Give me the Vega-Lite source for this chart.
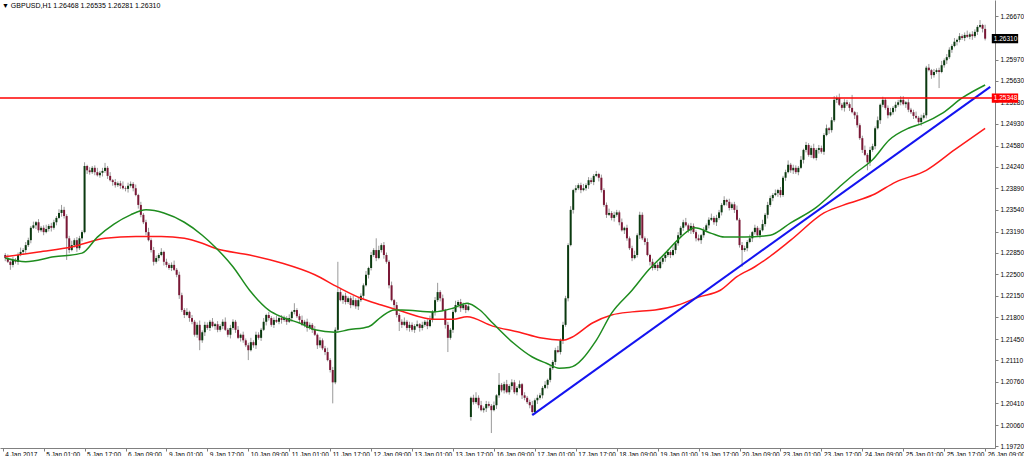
{
"$schema": "https://vega.github.io/schema/vega-lite/v6.json",
"width": 995, "height": 448,
"autosize": {"type": "none"},
"padding": {"left": 0, "top": 0, "right": 29, "bottom": 8},
"background": "white",
"title": {"text": "▼ GBPUSD,H1  1.26468 1.26535 1.26281 1.26310", "anchor": "start", "frame": "group", "orient": "top", "offset": -16, "fontSize": 7, "font": "Liberation Sans", "fontWeight": "normal", "color": "#000000", "dx": 2, "baseline": "bottom"},
"config": {"view": {"stroke": null}, "axis": {"grid": false}},
"datasets": {
"bars": [
{"i":1,"o":1.2281,"h":1.2284,"l":1.2271,"c":1.2276},
{"i":2,"o":1.2276,"h":1.2282,"l":1.2268,"c":1.2270},
{"i":3,"o":1.2270,"h":1.2272,"l":1.2257,"c":1.2265},
{"i":4,"o":1.2265,"h":1.2278,"l":1.2261,"c":1.2273},
{"i":5,"o":1.2273,"h":1.2276,"l":1.2267,"c":1.2270},
{"i":6,"o":1.2270,"h":1.2285,"l":1.2265,"c":1.2281},
{"i":7,"o":1.2281,"h":1.2293,"l":1.2279,"c":1.2286},
{"i":8,"o":1.2286,"h":1.2292,"l":1.2282,"c":1.2289},
{"i":9,"o":1.2289,"h":1.2302,"l":1.2283,"c":1.2297},
{"i":10,"o":1.2297,"h":1.2309,"l":1.2294,"c":1.2305},
{"i":11,"o":1.2305,"h":1.2328,"l":1.2300,"c":1.2325},
{"i":12,"o":1.2325,"h":1.2335,"l":1.2323,"c":1.2329},
{"i":13,"o":1.2329,"h":1.2336,"l":1.2323,"c":1.2334},
{"i":14,"o":1.2334,"h":1.2339,"l":1.2317,"c":1.2321},
{"i":15,"o":1.2321,"h":1.2328,"l":1.2318,"c":1.2325},
{"i":16,"o":1.2325,"h":1.2329,"l":1.2313,"c":1.2318},
{"i":17,"o":1.2318,"h":1.2330,"l":1.2316,"c":1.2323},
{"i":18,"o":1.2323,"h":1.2331,"l":1.2319,"c":1.2328},
{"i":19,"o":1.2328,"h":1.2333,"l":1.2319,"c":1.2325},
{"i":20,"o":1.2325,"h":1.2338,"l":1.2322,"c":1.2334},
{"i":21,"o":1.2334,"h":1.2344,"l":1.2329,"c":1.2341},
{"i":22,"o":1.2341,"h":1.2355,"l":1.2339,"c":1.2349},
{"i":23,"o":1.2349,"h":1.2362,"l":1.2343,"c":1.2354},
{"i":24,"o":1.2354,"h":1.2359,"l":1.2340,"c":1.2344},
{"i":25,"o":1.2344,"h":1.2347,"l":1.2273,"c":1.2308},
{"i":26,"o":1.2308,"h":1.2312,"l":1.2284,"c":1.2289},
{"i":27,"o":1.2289,"h":1.2304,"l":1.2287,"c":1.2297},
{"i":28,"o":1.2297,"h":1.2308,"l":1.2293,"c":1.2305},
{"i":29,"o":1.2305,"h":1.2310,"l":1.2286,"c":1.2292},
{"i":30,"o":1.2292,"h":1.2312,"l":1.2289,"c":1.2308},
{"i":31,"o":1.2308,"h":1.2321,"l":1.2303,"c":1.2318},
{"i":32,"o":1.2318,"h":1.2431,"l":1.2316,"c":1.2425},
{"i":33,"o":1.2425,"h":1.2427,"l":1.2412,"c":1.2418},
{"i":34,"o":1.2418,"h":1.2423,"l":1.2411,"c":1.2415},
{"i":35,"o":1.2415,"h":1.2425,"l":1.2412,"c":1.2422},
{"i":36,"o":1.2422,"h":1.2426,"l":1.2410,"c":1.2415},
{"i":37,"o":1.2415,"h":1.2422,"l":1.2408,"c":1.2410},
{"i":38,"o":1.2410,"h":1.2417,"l":1.2406,"c":1.2414},
{"i":39,"o":1.2414,"h":1.2422,"l":1.2408,"c":1.2417},
{"i":40,"o":1.2417,"h":1.2430,"l":1.2414,"c":1.2422},
{"i":41,"o":1.2422,"h":1.2425,"l":1.2404,"c":1.2409},
{"i":42,"o":1.2409,"h":1.2415,"l":1.2400,"c":1.2402},
{"i":43,"o":1.2402,"h":1.2404,"l":1.2393,"c":1.2399},
{"i":44,"o":1.2399,"h":1.2404,"l":1.2390,"c":1.2394},
{"i":45,"o":1.2394,"h":1.2400,"l":1.2391,"c":1.2397},
{"i":46,"o":1.2397,"h":1.2401,"l":1.2388,"c":1.2393},
{"i":47,"o":1.2393,"h":1.2400,"l":1.2387,"c":1.2389},
{"i":48,"o":1.2389,"h":1.2392,"l":1.2384,"c":1.2388},
{"i":49,"o":1.2388,"h":1.2398,"l":1.2382,"c":1.2393},
{"i":50,"o":1.2393,"h":1.2400,"l":1.2390,"c":1.2396},
{"i":51,"o":1.2396,"h":1.2399,"l":1.2384,"c":1.2389},
{"i":52,"o":1.2389,"h":1.2395,"l":1.2376,"c":1.2378},
{"i":53,"o":1.2378,"h":1.2380,"l":1.2356,"c":1.2362},
{"i":54,"o":1.2362,"h":1.2367,"l":1.2342,"c":1.2346},
{"i":55,"o":1.2346,"h":1.2349,"l":1.2331,"c":1.2334},
{"i":56,"o":1.2334,"h":1.2338,"l":1.2313,"c":1.2318},
{"i":57,"o":1.2318,"h":1.2325,"l":1.2303,"c":1.2305},
{"i":58,"o":1.2305,"h":1.2308,"l":1.2285,"c":1.2289},
{"i":59,"o":1.2289,"h":1.2294,"l":1.2264,"c":1.2270},
{"i":60,"o":1.2270,"h":1.2280,"l":1.2267,"c":1.2276},
{"i":61,"o":1.2276,"h":1.2284,"l":1.2271,"c":1.2281},
{"i":62,"o":1.2281,"h":1.2292,"l":1.2279,"c":1.2286},
{"i":63,"o":1.2286,"h":1.2288,"l":1.2264,"c":1.2270},
{"i":64,"o":1.2270,"h":1.2275,"l":1.2261,"c":1.2265},
{"i":65,"o":1.2265,"h":1.2268,"l":1.2257,"c":1.2260},
{"i":66,"o":1.2260,"h":1.2269,"l":1.2255,"c":1.2265},
{"i":67,"o":1.2265,"h":1.2272,"l":1.2255,"c":1.2257},
{"i":68,"o":1.2257,"h":1.2260,"l":1.2245,"c":1.2249},
{"i":69,"o":1.2249,"h":1.2254,"l":1.2210,"c":1.2216},
{"i":70,"o":1.2216,"h":1.2220,"l":1.2189,"c":1.2192},
{"i":71,"o":1.2192,"h":1.2195,"l":1.2179,"c":1.2184},
{"i":72,"o":1.2184,"h":1.2195,"l":1.2182,"c":1.2189},
{"i":73,"o":1.2189,"h":1.2191,"l":1.2173,"c":1.2179},
{"i":74,"o":1.2179,"h":1.2184,"l":1.2169,"c":1.2173},
{"i":75,"o":1.2173,"h":1.2176,"l":1.2149,"c":1.2152},
{"i":76,"o":1.2152,"h":1.2172,"l":1.2147,"c":1.2168},
{"i":77,"o":1.2168,"h":1.2175,"l":1.2127,"c":1.2143},
{"i":78,"o":1.2143,"h":1.2159,"l":1.2139,"c":1.2156},
{"i":79,"o":1.2156,"h":1.2173,"l":1.2150,"c":1.2168},
{"i":80,"o":1.2168,"h":1.2172,"l":1.2160,"c":1.2163},
{"i":81,"o":1.2163,"h":1.2176,"l":1.2158,"c":1.2173},
{"i":82,"o":1.2173,"h":1.2179,"l":1.2164,"c":1.2166},
{"i":83,"o":1.2166,"h":1.2171,"l":1.2160,"c":1.2169},
{"i":84,"o":1.2169,"h":1.2174,"l":1.2156,"c":1.2160},
{"i":85,"o":1.2160,"h":1.2169,"l":1.2157,"c":1.2166},
{"i":86,"o":1.2166,"h":1.2177,"l":1.2161,"c":1.2173},
{"i":87,"o":1.2173,"h":1.2180,"l":1.2158,"c":1.2160},
{"i":88,"o":1.2160,"h":1.2163,"l":1.2148,"c":1.2152},
{"i":89,"o":1.2152,"h":1.2168,"l":1.2146,"c":1.2163},
{"i":90,"o":1.2163,"h":1.2177,"l":1.2160,"c":1.2173},
{"i":91,"o":1.2173,"h":1.2176,"l":1.2155,"c":1.2160},
{"i":92,"o":1.2160,"h":1.2166,"l":1.2145,"c":1.2147},
{"i":93,"o":1.2147,"h":1.2154,"l":1.2141,"c":1.2152},
{"i":94,"o":1.2152,"h":1.2157,"l":1.2139,"c":1.2143},
{"i":95,"o":1.2143,"h":1.2146,"l":1.2132,"c":1.2135},
{"i":96,"o":1.2135,"h":1.2139,"l":1.2111,"c":1.2127},
{"i":97,"o":1.2127,"h":1.2147,"l":1.2125,"c":1.2140},
{"i":98,"o":1.2140,"h":1.2143,"l":1.2131,"c":1.2135},
{"i":99,"o":1.2135,"h":1.2157,"l":1.2129,"c":1.2152},
{"i":100,"o":1.2152,"h":1.2156,"l":1.2144,"c":1.2147},
{"i":101,"o":1.2147,"h":1.2163,"l":1.2142,"c":1.2160},
{"i":102,"o":1.2160,"h":1.2179,"l":1.2158,"c":1.2173},
{"i":103,"o":1.2173,"h":1.2186,"l":1.2167,"c":1.2184},
{"i":104,"o":1.2184,"h":1.2189,"l":1.2175,"c":1.2179},
{"i":105,"o":1.2179,"h":1.2182,"l":1.2165,"c":1.2168},
{"i":106,"o":1.2168,"h":1.2180,"l":1.2163,"c":1.2176},
{"i":107,"o":1.2176,"h":1.2183,"l":1.2171,"c":1.2173},
{"i":108,"o":1.2173,"h":1.2182,"l":1.2169,"c":1.2179},
{"i":109,"o":1.2179,"h":1.2184,"l":1.2170,"c":1.2176},
{"i":110,"o":1.2176,"h":1.2183,"l":1.2173,"c":1.2179},
{"i":111,"o":1.2179,"h":1.2182,"l":1.2168,"c":1.2173},
{"i":112,"o":1.2173,"h":1.2185,"l":1.2171,"c":1.2179},
{"i":113,"o":1.2179,"h":1.2191,"l":1.2173,"c":1.2189},
{"i":114,"o":1.2189,"h":1.2203,"l":1.2185,"c":1.2192},
{"i":115,"o":1.2192,"h":1.2195,"l":1.2179,"c":1.2182},
{"i":116,"o":1.2182,"h":1.2186,"l":1.2171,"c":1.2176},
{"i":117,"o":1.2176,"h":1.2183,"l":1.2166,"c":1.2168},
{"i":118,"o":1.2168,"h":1.2176,"l":1.2164,"c":1.2173},
{"i":119,"o":1.2173,"h":1.2178,"l":1.2157,"c":1.2163},
{"i":120,"o":1.2163,"h":1.2172,"l":1.2160,"c":1.2168},
{"i":121,"o":1.2168,"h":1.2171,"l":1.2155,"c":1.2160},
{"i":122,"o":1.2160,"h":1.2166,"l":1.2150,"c":1.2152},
{"i":123,"o":1.2152,"h":1.2154,"l":1.2129,"c":1.2135},
{"i":124,"o":1.2135,"h":1.2148,"l":1.2131,"c":1.2143},
{"i":125,"o":1.2143,"h":1.2146,"l":1.2127,"c":1.2130},
{"i":126,"o":1.2130,"h":1.2134,"l":1.2119,"c":1.2124},
{"i":127,"o":1.2124,"h":1.2131,"l":1.2109,"c":1.2111},
{"i":128,"o":1.2111,"h":1.2114,"l":1.2091,"c":1.2095},
{"i":129,"o":1.2095,"h":1.2100,"l":1.2041,"c":1.2075},
{"i":130,"o":1.2075,"h":1.2164,"l":1.2072,"c":1.2160},
{"i":131,"o":1.2160,"h":1.2270,"l":1.2155,"c":1.2221},
{"i":132,"o":1.2221,"h":1.2227,"l":1.2206,"c":1.2208},
{"i":133,"o":1.2208,"h":1.2217,"l":1.2202,"c":1.2215},
{"i":134,"o":1.2215,"h":1.2220,"l":1.2201,"c":1.2205},
{"i":135,"o":1.2205,"h":1.2214,"l":1.2202,"c":1.2211},
{"i":136,"o":1.2211,"h":1.2215,"l":1.2195,"c":1.2200},
{"i":137,"o":1.2200,"h":1.2215,"l":1.2198,"c":1.2208},
{"i":138,"o":1.2208,"h":1.2211,"l":1.2194,"c":1.2198},
{"i":139,"o":1.2198,"h":1.2213,"l":1.2192,"c":1.2208},
{"i":140,"o":1.2208,"h":1.2219,"l":1.2205,"c":1.2215},
{"i":141,"o":1.2215,"h":1.2235,"l":1.2210,"c":1.2232},
{"i":142,"o":1.2232,"h":1.2255,"l":1.2230,"c":1.2249},
{"i":143,"o":1.2249,"h":1.2262,"l":1.2243,"c":1.2260},
{"i":144,"o":1.2260,"h":1.2286,"l":1.2256,"c":1.2281},
{"i":145,"o":1.2281,"h":1.2292,"l":1.2278,"c":1.2289},
{"i":146,"o":1.2289,"h":1.2308,"l":1.2271,"c":1.2276},
{"i":147,"o":1.2276,"h":1.2296,"l":1.2274,"c":1.2289},
{"i":148,"o":1.2289,"h":1.2300,"l":1.2285,"c":1.2297},
{"i":149,"o":1.2297,"h":1.2302,"l":1.2275,"c":1.2281},
{"i":150,"o":1.2281,"h":1.2285,"l":1.2267,"c":1.2270},
{"i":151,"o":1.2270,"h":1.2273,"l":1.2227,"c":1.2232},
{"i":152,"o":1.2232,"h":1.2238,"l":1.2206,"c":1.2208},
{"i":153,"o":1.2208,"h":1.2210,"l":1.2194,"c":1.2200},
{"i":154,"o":1.2200,"h":1.2205,"l":1.2180,"c":1.2184},
{"i":155,"o":1.2184,"h":1.2187,"l":1.2158,"c":1.2173},
{"i":156,"o":1.2173,"h":1.2177,"l":1.2163,"c":1.2168},
{"i":157,"o":1.2168,"h":1.2180,"l":1.2166,"c":1.2173},
{"i":158,"o":1.2173,"h":1.2176,"l":1.2159,"c":1.2163},
{"i":159,"o":1.2163,"h":1.2173,"l":1.2157,"c":1.2168},
{"i":160,"o":1.2168,"h":1.2172,"l":1.2157,"c":1.2160},
{"i":161,"o":1.2160,"h":1.2169,"l":1.2155,"c":1.2166},
{"i":162,"o":1.2166,"h":1.2175,"l":1.2164,"c":1.2169},
{"i":163,"o":1.2169,"h":1.2171,"l":1.2157,"c":1.2163},
{"i":164,"o":1.2163,"h":1.2173,"l":1.2159,"c":1.2168},
{"i":165,"o":1.2168,"h":1.2176,"l":1.2165,"c":1.2173},
{"i":166,"o":1.2173,"h":1.2177,"l":1.2161,"c":1.2166},
{"i":167,"o":1.2166,"h":1.2183,"l":1.2164,"c":1.2176},
{"i":168,"o":1.2176,"h":1.2192,"l":1.2172,"c":1.2189},
{"i":169,"o":1.2189,"h":1.2213,"l":1.2183,"c":1.2208},
{"i":170,"o":1.2208,"h":1.2236,"l":1.2205,"c":1.2221},
{"i":171,"o":1.2221,"h":1.2224,"l":1.2206,"c":1.2211},
{"i":172,"o":1.2211,"h":1.2217,"l":1.2190,"c":1.2192},
{"i":173,"o":1.2192,"h":1.2194,"l":1.2162,"c":1.2168},
{"i":174,"o":1.2168,"h":1.2173,"l":1.2124,"c":1.2147},
{"i":175,"o":1.2147,"h":1.2163,"l":1.2144,"c":1.2160},
{"i":176,"o":1.2160,"h":1.2193,"l":1.2155,"c":1.2189},
{"i":177,"o":1.2189,"h":1.2207,"l":1.2187,"c":1.2200},
{"i":178,"o":1.2200,"h":1.2208,"l":1.2196,"c":1.2205},
{"i":179,"o":1.2205,"h":1.2210,"l":1.2189,"c":1.2195},
{"i":180,"o":1.2195,"h":1.2204,"l":1.2192,"c":1.2200},
{"i":181,"o":1.2200,"h":1.2203,"l":1.2187,"c":1.2192},
{"i":182,"o":1.2192,"h":1.2204,"l":1.2190,"c":1.2198},
{"i":183,"o":1.2019,"h":1.2052,"l":1.2013,"c":1.2050},
{"i":184,"o":1.2050,"h":1.2055,"l":1.2039,"c":1.2043},
{"i":185,"o":1.2043,"h":1.2059,"l":1.2040,"c":1.2050},
{"i":186,"o":1.2050,"h":1.2054,"l":1.2033,"c":1.2038},
{"i":187,"o":1.2038,"h":1.2045,"l":1.2028,"c":1.2030},
{"i":188,"o":1.2030,"h":1.2036,"l":1.2026,"c":1.2033},
{"i":189,"o":1.2033,"h":1.2045,"l":1.2027,"c":1.2040},
{"i":190,"o":1.2040,"h":1.2044,"l":1.2034,"c":1.2037},
{"i":191,"o":1.2037,"h":1.2040,"l":1.1993,"c":1.2030},
{"i":192,"o":1.2030,"h":1.2044,"l":1.2028,"c":1.2038},
{"i":193,"o":1.2038,"h":1.2056,"l":1.2032,"c":1.2054},
{"i":194,"o":1.2054,"h":1.2090,"l":1.2050,"c":1.2071},
{"i":195,"o":1.2071,"h":1.2074,"l":1.2059,"c":1.2062},
{"i":196,"o":1.2062,"h":1.2076,"l":1.2057,"c":1.2072},
{"i":197,"o":1.2072,"h":1.2079,"l":1.2057,"c":1.2059},
{"i":198,"o":1.2059,"h":1.2072,"l":1.2055,"c":1.2069},
{"i":199,"o":1.2069,"h":1.2080,"l":1.2063,"c":1.2075},
{"i":200,"o":1.2075,"h":1.2079,"l":1.2056,"c":1.2059},
{"i":201,"o":1.2059,"h":1.2069,"l":1.2054,"c":1.2066},
{"i":202,"o":1.2066,"h":1.2078,"l":1.2064,"c":1.2072},
{"i":203,"o":1.2072,"h":1.2074,"l":1.2048,"c":1.2054},
{"i":204,"o":1.2054,"h":1.2059,"l":1.2046,"c":1.2050},
{"i":205,"o":1.2050,"h":1.2053,"l":1.2040,"c":1.2043},
{"i":206,"o":1.2043,"h":1.2047,"l":1.2033,"c":1.2038},
{"i":207,"o":1.2038,"h":1.2045,"l":1.2022,"c":1.2027},
{"i":208,"o":1.2027,"h":1.2049,"l":1.2023,"c":1.2046},
{"i":209,"o":1.2046,"h":1.2055,"l":1.2040,"c":1.2050},
{"i":210,"o":1.2050,"h":1.2058,"l":1.2047,"c":1.2054},
{"i":211,"o":1.2054,"h":1.2069,"l":1.2049,"c":1.2066},
{"i":212,"o":1.2066,"h":1.2077,"l":1.2064,"c":1.2071},
{"i":213,"o":1.2071,"h":1.2081,"l":1.2065,"c":1.2079},
{"i":214,"o":1.2079,"h":1.2103,"l":1.2075,"c":1.2098},
{"i":215,"o":1.2098,"h":1.2111,"l":1.2095,"c":1.2108},
{"i":216,"o":1.2108,"h":1.2131,"l":1.2103,"c":1.2127},
{"i":217,"o":1.2127,"h":1.2134,"l":1.2122,"c":1.2124},
{"i":218,"o":1.2124,"h":1.2146,"l":1.2120,"c":1.2143},
{"i":219,"o":1.2143,"h":1.2173,"l":1.2137,"c":1.2168},
{"i":220,"o":1.2168,"h":1.2215,"l":1.2165,"c":1.2211},
{"i":221,"o":1.2211,"h":1.2300,"l":1.2206,"c":1.2297},
{"i":222,"o":1.2297,"h":1.2360,"l":1.2295,"c":1.2354},
{"i":223,"o":1.2354,"h":1.2388,"l":1.2348,"c":1.2386},
{"i":224,"o":1.2386,"h":1.2394,"l":1.2382,"c":1.2389},
{"i":225,"o":1.2389,"h":1.2397,"l":1.2386,"c":1.2394},
{"i":226,"o":1.2394,"h":1.2398,"l":1.2381,"c":1.2386},
{"i":227,"o":1.2386,"h":1.2396,"l":1.2384,"c":1.2389},
{"i":228,"o":1.2389,"h":1.2397,"l":1.2385,"c":1.2394},
{"i":229,"o":1.2394,"h":1.2407,"l":1.2388,"c":1.2402},
{"i":230,"o":1.2402,"h":1.2406,"l":1.2396,"c":1.2399},
{"i":231,"o":1.2399,"h":1.2412,"l":1.2394,"c":1.2409},
{"i":232,"o":1.2409,"h":1.2417,"l":1.2407,"c":1.2412},
{"i":233,"o":1.2412,"h":1.2414,"l":1.2400,"c":1.2406},
{"i":234,"o":1.2406,"h":1.2411,"l":1.2382,"c":1.2386},
{"i":235,"o":1.2386,"h":1.2389,"l":1.2359,"c":1.2362},
{"i":236,"o":1.2362,"h":1.2366,"l":1.2341,"c":1.2346},
{"i":237,"o":1.2346,"h":1.2356,"l":1.2344,"c":1.2349},
{"i":238,"o":1.2349,"h":1.2352,"l":1.2337,"c":1.2341},
{"i":239,"o":1.2341,"h":1.2351,"l":1.2335,"c":1.2346},
{"i":240,"o":1.2346,"h":1.2354,"l":1.2343,"c":1.2350},
{"i":241,"o":1.2350,"h":1.2353,"l":1.2329,"c":1.2334},
{"i":242,"o":1.2334,"h":1.2340,"l":1.2319,"c":1.2321},
{"i":243,"o":1.2321,"h":1.2327,"l":1.2315,"c":1.2325},
{"i":244,"o":1.2325,"h":1.2330,"l":1.2304,"c":1.2308},
{"i":245,"o":1.2308,"h":1.2311,"l":1.2289,"c":1.2292},
{"i":246,"o":1.2292,"h":1.2296,"l":1.2271,"c":1.2276},
{"i":247,"o":1.2276,"h":1.2288,"l":1.2274,"c":1.2281},
{"i":248,"o":1.2281,"h":1.2316,"l":1.2277,"c":1.2313},
{"i":249,"o":1.2313,"h":1.2351,"l":1.2307,"c":1.2346},
{"i":250,"o":1.2346,"h":1.2350,"l":1.2305,"c":1.2308},
{"i":251,"o":1.2308,"h":1.2311,"l":1.2297,"c":1.2302},
{"i":252,"o":1.2302,"h":1.2308,"l":1.2279,"c":1.2281},
{"i":253,"o":1.2281,"h":1.2283,"l":1.2264,"c":1.2270},
{"i":254,"o":1.2270,"h":1.2275,"l":1.2256,"c":1.2260},
{"i":255,"o":1.2260,"h":1.2268,"l":1.2257,"c":1.2265},
{"i":256,"o":1.2265,"h":1.2269,"l":1.2255,"c":1.2260},
{"i":257,"o":1.2260,"h":1.2277,"l":1.2258,"c":1.2270},
{"i":258,"o":1.2270,"h":1.2279,"l":1.2266,"c":1.2276},
{"i":259,"o":1.2276,"h":1.2286,"l":1.2270,"c":1.2281},
{"i":260,"o":1.2281,"h":1.2290,"l":1.2278,"c":1.2286},
{"i":261,"o":1.2286,"h":1.2289,"l":1.2276,"c":1.2281},
{"i":262,"o":1.2281,"h":1.2295,"l":1.2279,"c":1.2289},
{"i":263,"o":1.2289,"h":1.2302,"l":1.2283,"c":1.2300},
{"i":264,"o":1.2300,"h":1.2318,"l":1.2296,"c":1.2313},
{"i":265,"o":1.2313,"h":1.2328,"l":1.2310,"c":1.2325},
{"i":266,"o":1.2325,"h":1.2338,"l":1.2320,"c":1.2334},
{"i":267,"o":1.2334,"h":1.2341,"l":1.2327,"c":1.2329},
{"i":268,"o":1.2329,"h":1.2332,"l":1.2317,"c":1.2321},
{"i":269,"o":1.2321,"h":1.2333,"l":1.2315,"c":1.2328},
{"i":270,"o":1.2328,"h":1.2332,"l":1.2315,"c":1.2318},
{"i":271,"o":1.2318,"h":1.2321,"l":1.2303,"c":1.2308},
{"i":272,"o":1.2308,"h":1.2314,"l":1.2303,"c":1.2305},
{"i":273,"o":1.2305,"h":1.2315,"l":1.2299,"c":1.2313},
{"i":274,"o":1.2313,"h":1.2326,"l":1.2309,"c":1.2321},
{"i":275,"o":1.2321,"h":1.2332,"l":1.2318,"c":1.2329},
{"i":276,"o":1.2329,"h":1.2342,"l":1.2324,"c":1.2338},
{"i":277,"o":1.2338,"h":1.2348,"l":1.2336,"c":1.2341},
{"i":278,"o":1.2341,"h":1.2344,"l":1.2330,"c":1.2334},
{"i":279,"o":1.2334,"h":1.2346,"l":1.2328,"c":1.2341},
{"i":280,"o":1.2341,"h":1.2354,"l":1.2338,"c":1.2350},
{"i":281,"o":1.2350,"h":1.2365,"l":1.2345,"c":1.2362},
{"i":282,"o":1.2362,"h":1.2376,"l":1.2360,"c":1.2370},
{"i":283,"o":1.2370,"h":1.2372,"l":1.2361,"c":1.2367},
{"i":284,"o":1.2367,"h":1.2372,"l":1.2353,"c":1.2357},
{"i":285,"o":1.2357,"h":1.2366,"l":1.2354,"c":1.2363},
{"i":286,"o":1.2363,"h":1.2367,"l":1.2349,"c":1.2354},
{"i":287,"o":1.2354,"h":1.2361,"l":1.2336,"c":1.2338},
{"i":288,"o":1.2338,"h":1.2341,"l":1.2293,"c":1.2297},
{"i":289,"o":1.2297,"h":1.2302,"l":1.2262,"c":1.2289},
{"i":290,"o":1.2289,"h":1.2296,"l":1.2286,"c":1.2292},
{"i":291,"o":1.2292,"h":1.2305,"l":1.2287,"c":1.2302},
{"i":292,"o":1.2302,"h":1.2314,"l":1.2300,"c":1.2308},
{"i":293,"o":1.2308,"h":1.2320,"l":1.2302,"c":1.2318},
{"i":294,"o":1.2318,"h":1.2330,"l":1.2314,"c":1.2325},
{"i":295,"o":1.2325,"h":1.2328,"l":1.2310,"c":1.2313},
{"i":296,"o":1.2313,"h":1.2325,"l":1.2308,"c":1.2321},
{"i":297,"o":1.2321,"h":1.2338,"l":1.2319,"c":1.2331},
{"i":298,"o":1.2331,"h":1.2349,"l":1.2327,"c":1.2346},
{"i":299,"o":1.2346,"h":1.2367,"l":1.2340,"c":1.2362},
{"i":300,"o":1.2362,"h":1.2377,"l":1.2359,"c":1.2373},
{"i":301,"o":1.2373,"h":1.2381,"l":1.2368,"c":1.2378},
{"i":302,"o":1.2378,"h":1.2387,"l":1.2376,"c":1.2381},
{"i":303,"o":1.2381,"h":1.2388,"l":1.2375,"c":1.2386},
{"i":304,"o":1.2386,"h":1.2391,"l":1.2374,"c":1.2378},
{"i":305,"o":1.2378,"h":1.2409,"l":1.2375,"c":1.2406},
{"i":306,"o":1.2406,"h":1.2419,"l":1.2401,"c":1.2415},
{"i":307,"o":1.2415,"h":1.2434,"l":1.2413,"c":1.2427},
{"i":308,"o":1.2427,"h":1.2430,"l":1.2414,"c":1.2418},
{"i":309,"o":1.2418,"h":1.2427,"l":1.2412,"c":1.2422},
{"i":310,"o":1.2422,"h":1.2426,"l":1.2412,"c":1.2415},
{"i":311,"o":1.2415,"h":1.2425,"l":1.2410,"c":1.2422},
{"i":312,"o":1.2422,"h":1.2441,"l":1.2420,"c":1.2435},
{"i":313,"o":1.2435,"h":1.2453,"l":1.2429,"c":1.2451},
{"i":314,"o":1.2451,"h":1.2464,"l":1.2447,"c":1.2459},
{"i":315,"o":1.2459,"h":1.2462,"l":1.2440,"c":1.2443},
{"i":316,"o":1.2443,"h":1.2458,"l":1.2438,"c":1.2454},
{"i":317,"o":1.2454,"h":1.2461,"l":1.2436,"c":1.2438},
{"i":318,"o":1.2438,"h":1.2454,"l":1.2434,"c":1.2451},
{"i":319,"o":1.2451,"h":1.2459,"l":1.2445,"c":1.2454},
{"i":320,"o":1.2454,"h":1.2458,"l":1.2445,"c":1.2448},
{"i":321,"o":1.2448,"h":1.2478,"l":1.2443,"c":1.2475},
{"i":322,"o":1.2475,"h":1.2492,"l":1.2473,"c":1.2486},
{"i":323,"o":1.2486,"h":1.2488,"l":1.2477,"c":1.2483},
{"i":324,"o":1.2483,"h":1.2504,"l":1.2479,"c":1.2499},
{"i":325,"o":1.2499,"h":1.2538,"l":1.2496,"c":1.2532},
{"i":326,"o":1.2532,"h":1.2539,"l":1.2527,"c":1.2535},
{"i":327,"o":1.2535,"h":1.2542,"l":1.2522,"c":1.2524},
{"i":328,"o":1.2524,"h":1.2527,"l":1.2515,"c":1.2519},
{"i":329,"o":1.2519,"h":1.2533,"l":1.2513,"c":1.2528},
{"i":330,"o":1.2528,"h":1.2532,"l":1.2522,"c":1.2525},
{"i":331,"o":1.2525,"h":1.2528,"l":1.2514,"c":1.2519},
{"i":332,"o":1.2519,"h":1.2540,"l":1.2510,"c":1.2512},
{"i":333,"o":1.2512,"h":1.2514,"l":1.2501,"c":1.2507},
{"i":334,"o":1.2507,"h":1.2512,"l":1.2487,"c":1.2491},
{"i":335,"o":1.2491,"h":1.2494,"l":1.2467,"c":1.2470},
{"i":336,"o":1.2470,"h":1.2474,"l":1.2446,"c":1.2451},
{"i":337,"o":1.2451,"h":1.2458,"l":1.2441,"c":1.2443},
{"i":338,"o":1.2443,"h":1.2446,"l":1.2418,"c":1.2431},
{"i":339,"o":1.2431,"h":1.2456,"l":1.2425,"c":1.2451},
{"i":340,"o":1.2451,"h":1.2461,"l":1.2448,"c":1.2457},
{"i":341,"o":1.2457,"h":1.2489,"l":1.2452,"c":1.2486},
{"i":342,"o":1.2486,"h":1.2505,"l":1.2484,"c":1.2499},
{"i":343,"o":1.2499,"h":1.2526,"l":1.2493,"c":1.2524},
{"i":344,"o":1.2524,"h":1.2537,"l":1.2520,"c":1.2532},
{"i":345,"o":1.2532,"h":1.2535,"l":1.2516,"c":1.2519},
{"i":346,"o":1.2519,"h":1.2523,"l":1.2502,"c":1.2507},
{"i":347,"o":1.2507,"h":1.2519,"l":1.2505,"c":1.2512},
{"i":348,"o":1.2512,"h":1.2522,"l":1.2508,"c":1.2519},
{"i":349,"o":1.2519,"h":1.2529,"l":1.2513,"c":1.2524},
{"i":350,"o":1.2524,"h":1.2532,"l":1.2521,"c":1.2528},
{"i":351,"o":1.2528,"h":1.2538,"l":1.2523,"c":1.2532},
{"i":352,"o":1.2532,"h":1.2538,"l":1.2523,"c":1.2525},
{"i":353,"o":1.2525,"h":1.2530,"l":1.2519,"c":1.2528},
{"i":354,"o":1.2528,"h":1.2533,"l":1.2512,"c":1.2516},
{"i":355,"o":1.2516,"h":1.2519,"l":1.2509,"c":1.2512},
{"i":356,"o":1.2512,"h":1.2516,"l":1.2501,"c":1.2506},
{"i":357,"o":1.2506,"h":1.2513,"l":1.2501,"c":1.2503},
{"i":358,"o":1.2503,"h":1.2506,"l":1.2492,"c":1.2496},
{"i":359,"o":1.2496,"h":1.2508,"l":1.2490,"c":1.2503},
{"i":360,"o":1.2503,"h":1.2511,"l":1.2500,"c":1.2507},
{"i":361,"o":1.2507,"h":1.2587,"l":1.2502,"c":1.2584},
{"i":362,"o":1.2584,"h":1.2590,"l":1.2578,"c":1.2580},
{"i":363,"o":1.2580,"h":1.2582,"l":1.2566,"c":1.2572},
{"i":364,"o":1.2572,"h":1.2582,"l":1.2568,"c":1.2577},
{"i":365,"o":1.2577,"h":1.2583,"l":1.2574,"c":1.2580},
{"i":366,"o":1.2580,"h":1.2584,"l":1.2551,"c":1.2577},
{"i":367,"o":1.2577,"h":1.2595,"l":1.2575,"c":1.2588},
{"i":368,"o":1.2588,"h":1.2599,"l":1.2584,"c":1.2596},
{"i":369,"o":1.2596,"h":1.2606,"l":1.2590,"c":1.2601},
{"i":370,"o":1.2601,"h":1.2617,"l":1.2598,"c":1.2613},
{"i":371,"o":1.2613,"h":1.2622,"l":1.2608,"c":1.2619},
{"i":372,"o":1.2619,"h":1.2632,"l":1.2617,"c":1.2626},
{"i":373,"o":1.2626,"h":1.2631,"l":1.2620,"c":1.2629},
{"i":374,"o":1.2629,"h":1.2640,"l":1.2625,"c":1.2635},
{"i":375,"o":1.2635,"h":1.2638,"l":1.2629,"c":1.2632},
{"i":376,"o":1.2632,"h":1.2641,"l":1.2627,"c":1.2637},
{"i":377,"o":1.2637,"h":1.2644,"l":1.2632,"c":1.2634},
{"i":378,"o":1.2634,"h":1.2641,"l":1.2630,"c":1.2638},
{"i":379,"o":1.2638,"h":1.2643,"l":1.2629,"c":1.2635},
{"i":380,"o":1.2635,"h":1.2646,"l":1.2632,"c":1.2642},
{"i":381,"o":1.2642,"h":1.2653,"l":1.2637,"c":1.2650},
{"i":382,"o":1.2650,"h":1.2661,"l":1.2648,"c":1.2653},
{"i":383,"o":1.2653,"h":1.2655,"l":1.2641,"c":1.2647},
{"i":384,"o":1.26468,"h":1.26535,"l":1.26281,"c":1.26310}
],
"green": [
{"i":1,"v":1.2276},{"i":9,"v":1.2270},{"i":20,"v":1.2278},{"i":31,"v":1.2284},{"i":37,"v":1.2310},{"i":43.5,"v":1.2331},{"i":50,"v":1.2346},{"i":56,"v":1.2354},{"i":63,"v":1.2349},{"i":71,"v":1.2334},{"i":78,"v":1.2313},{"i":83,"v":1.2294},{"i":90,"v":1.2262},{"i":96.5,"v":1.2224},{"i":104,"v":1.2192},{"i":109,"v":1.2181},{"i":116,"v":1.2171},{"i":122,"v":1.2160},{"i":130,"v":1.2156},{"i":135,"v":1.2160},{"i":143,"v":1.2165},{"i":148,"v":1.2181},{"i":153,"v":1.2192},{"i":156,"v":1.2192},{"i":168.5,"v":1.2189},{"i":176,"v":1.2195},{"i":181.5,"v":1.2203},{"i":186.5,"v":1.2192},{"i":191.5,"v":1.2171},{"i":199.5,"v":1.2139},{"i":207,"v":1.2116},{"i":212.5,"v":1.2106},{"i":217.5,"v":1.2098},{"i":221.5,"v":1.2099},{"i":232,"v":1.2143},{"i":238,"v":1.2187},{"i":246,"v":1.2224},{"i":252.5,"v":1.2257},{"i":259,"v":1.2284},{"i":265,"v":1.2310},{"i":270.5,"v":1.2325},{"i":277,"v":1.2316},{"i":282,"v":1.2310},{"i":290,"v":1.2310},{"i":300,"v":1.2313},{"i":308,"v":1.2333},{"i":318,"v":1.2358},{"i":327,"v":1.2391},{"i":333.5,"v":1.2414},{"i":340,"v":1.2435},{"i":346.5,"v":1.2467},{"i":354,"v":1.2486},{"i":359.5,"v":1.2494},{"i":367.5,"v":1.2511},{"i":375,"v":1.2535},{"i":384,"v":1.2556}
],
"red": [
{"i":1,"v":1.2278},{"i":14,"v":1.2286},{"i":27,"v":1.2294},{"i":40,"v":1.2308},{"i":52,"v":1.2311},{"i":62,"v":1.2311},{"i":71,"v":1.2308},{"i":78,"v":1.2300},{"i":83,"v":1.2292},{"i":96.5,"v":1.2281},{"i":109,"v":1.2268},{"i":122,"v":1.2249},{"i":131,"v":1.2229},{"i":140,"v":1.2211},{"i":148,"v":1.2200},{"i":156,"v":1.2190},{"i":168.5,"v":1.2177},{"i":176,"v":1.2177},{"i":181.5,"v":1.2181},{"i":191.5,"v":1.2166},{"i":202,"v":1.2156},{"i":210,"v":1.2147},{"i":219,"v":1.2143},{"i":222.5,"v":1.2148},{"i":230.5,"v":1.2171},{"i":238,"v":1.2184},{"i":246,"v":1.2189},{"i":255,"v":1.2192},{"i":264,"v":1.2200},{"i":272,"v":1.2213},{"i":280.5,"v":1.2224},{"i":287,"v":1.2246},{"i":294,"v":1.2262},{"i":299,"v":1.2276},{"i":308,"v":1.2305},{"i":321,"v":1.2349},{"i":331,"v":1.2365},{"i":340,"v":1.2378},{"i":349,"v":1.2399},{"i":361,"v":1.2418},{"i":372,"v":1.2451},{"i":384,"v":1.2486}
],
"blue": [
{"i":207,"v":1.2022},{"i":386,"v":1.2553}
]
},
"layer": [
{"data": {"name": "bars"},
 "mark": {"type": "rule", "color": "#9a9a9a", "strokeWidth": 1},
 "encoding": {
  "x": {"field": "i", "type": "quantitative", "scale": {"domain": [0.9, 385.9], "nice": false, "zero": false},
   "axis": {"values": [0,16,32,48,64,80,96,112,128,144,160,176,192,208,224,240,256,272,288,304,320,336,352,368,384],
    "tickCount": 40,
    "labelExpr": "['4 Jan 2017','5 Jan 01:00','5 Jan 17:00','6 Jan 09:00','9 Jan 01:00','9 Jan 17:00','10 Jan 09:00','11 Jan 01:00','11 Jan 17:00','12 Jan 09:00','13 Jan 01:00','13 Jan 17:00','16 Jan 09:00','17 Jan 01:00','17 Jan 17:00','18 Jan 09:00','19 Jan 01:00','19 Jan 17:00','20 Jan 09:00','23 Jan 01:00','23 Jan 17:00','24 Jan 09:00','25 Jan 01:00','25 Jan 17:00','26 Jan 09:00'][round(datum.value/16)]",
    "title": null, "orient": "bottom", "tickSize": 3, "labelPadding": 0, "labelAlign": "left", "labelOffset": 2, "labelBaseline": "top",
    "labelFontSize": 6.5, "labelFont": "Liberation Sans", "labelColor": "#000000", "domainColor": "#808080", "tickColor": "#808080",
    "labelOverlap": false, "labelBound": false, "labelFlush": false}},
  "y": {"field": "l", "type": "quantitative", "scale": {"domain": [1.19688, 1.26935], "nice": false, "zero": false},
   "axis": {"orient": "right", "values": [1.1972,1.2006,1.2041,1.2076,1.2111,1.2145,1.218,1.2215,1.225,1.2285,1.2319,1.2354,1.2389,1.2424,1.2458,1.2493,1.2528,1.2563,1.2597,1.2667],
    "tickCount": 40,
    "format": ".5f", "title": null, "tickSize": 3, "labelPadding": 2, "labelFontSize": 6.5, "labelFont": "Liberation Sans", "labelColor": "#000000",
    "domainColor": "#808080", "tickColor": "#808080", "labelOverlap": false, "labelBound": false, "labelFlush": false}},
  "y2": {"field": "h"}
 }},
{"data": {"name": "bars"},
 "mark": {"type": "bar", "size": 2},
 "encoding": {
  "x": {"field": "i", "type": "quantitative", "scale": {"domain": [0.9, 385.9], "nice": false, "zero": false}},
  "y": {"field": "o", "type": "quantitative", "scale": {"domain": [1.19688, 1.26935], "nice": false, "zero": false}},
  "y2": {"field": "c"},
  "color": {"condition": {"test": "datum.c >= datum.o", "value": "#0b3a10"}, "value": "#7a1836"}
 }},
{"data": {"name": "red"},
 "mark": {"type": "line", "color": "#ff1a1a", "strokeWidth": 1.5, "interpolate": "monotone", "clip": true},
 "encoding": {
  "x": {"field": "i", "type": "quantitative", "scale": {"domain": [0.9, 385.9], "nice": false, "zero": false}},
  "y": {"field": "v", "type": "quantitative", "scale": {"domain": [1.19688, 1.26935], "nice": false, "zero": false}}
 }},
{"data": {"name": "green"},
 "mark": {"type": "line", "color": "#1e8c1e", "strokeWidth": 1.5, "interpolate": "monotone", "clip": true},
 "encoding": {
  "x": {"field": "i", "type": "quantitative", "scale": {"domain": [0.9, 385.9], "nice": false, "zero": false}},
  "y": {"field": "v", "type": "quantitative", "scale": {"domain": [1.19688, 1.26935], "nice": false, "zero": false}}
 }},
{"data": {"name": "blue"},
 "mark": {"type": "line", "color": "#1414f0", "strokeWidth": 2, "clip": true},
 "encoding": {
  "x": {"field": "i", "type": "quantitative", "scale": {"domain": [0.9, 385.9], "nice": false, "zero": false}},
  "y": {"field": "v", "type": "quantitative", "scale": {"domain": [1.19688, 1.26935], "nice": false, "zero": false}}
 }},
{"data": {"values": [{}]},
 "mark": {"type": "rule", "color": "#ff0000", "strokeWidth": 1.5},
 "encoding": {"y": {"datum": 1.25348, "type": "quantitative", "scale": {"domain": [1.19688, 1.26935], "nice": false, "zero": false}}}},
{"data": {"values": [{}]},
 "mark": {"type": "rect", "color": "#ff0000"},
 "encoding": {"x": {"datum": 386.6, "type": "quantitative"}, "x2": {"datum": 396.9}, "y": {"datum": 1.25423, "type": "quantitative"}, "y2": {"datum": 1.25273}}},
{"data": {"values": [{}]},
 "mark": {"type": "rect", "color": "#000000"},
 "encoding": {"x": {"datum": 386.6, "type": "quantitative"}, "x2": {"datum": 396.9}, "y": {"datum": 1.26385, "type": "quantitative"}, "y2": {"datum": 1.26235}}},
{"data": {"values": [{}]},
 "mark": {"type": "text", "align": "left", "baseline": "middle", "color": "#ffffff", "fontSize": 6.5, "font": "Liberation Sans"},
 "encoding": {"x": {"datum": 387.4, "type": "quantitative"}, "y": {"datum": 1.25348, "type": "quantitative"}, "text": {"value": "1.25348"}}},
{"data": {"values": [{}]},
 "mark": {"type": "text", "align": "left", "baseline": "middle", "color": "#ffffff", "fontSize": 6.5, "font": "Liberation Sans"},
 "encoding": {"x": {"datum": 387.4, "type": "quantitative"}, "y": {"datum": 1.2631, "type": "quantitative"}, "text": {"value": "1.26310"}}}
]
}
